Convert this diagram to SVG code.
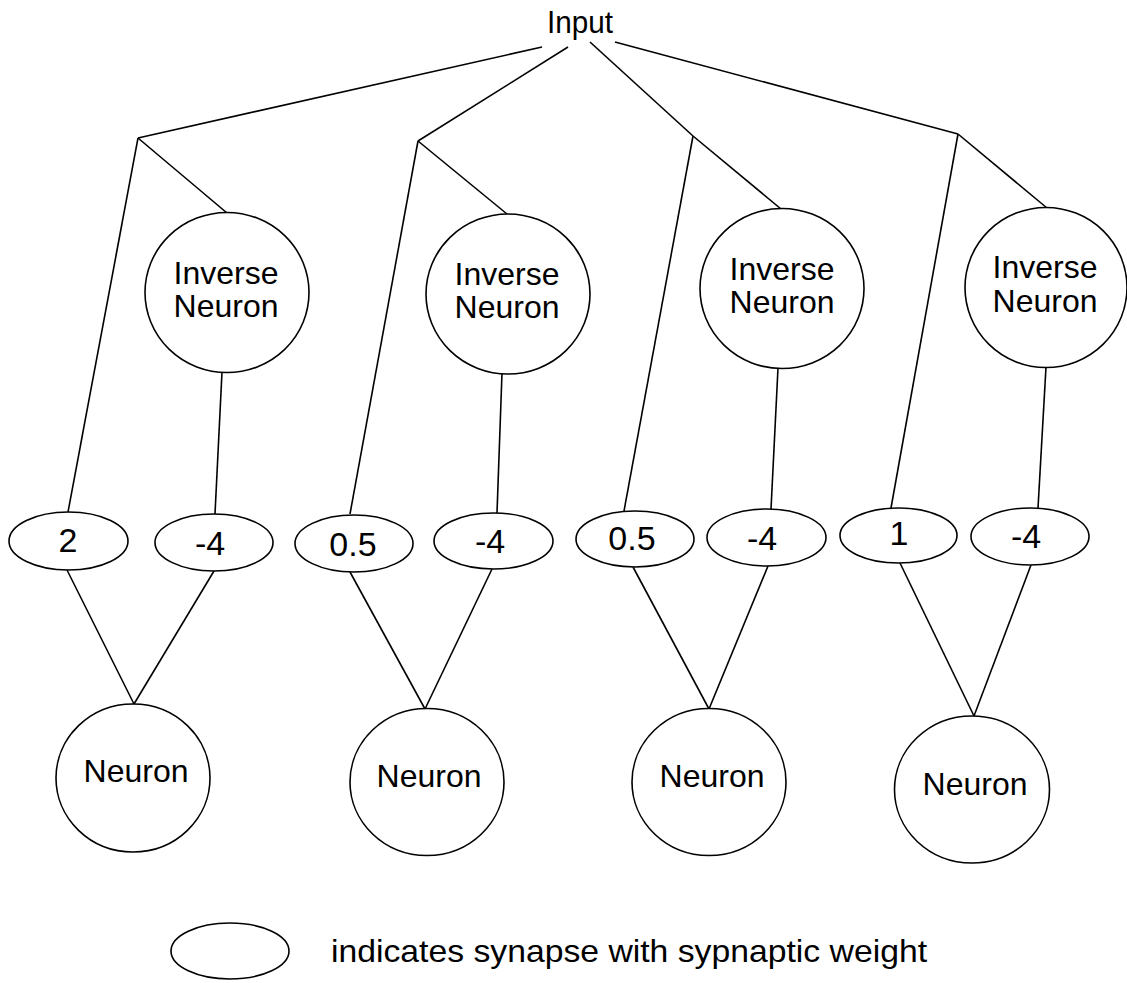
<svg xmlns="http://www.w3.org/2000/svg" width="1127" height="983" viewBox="0 0 1127 983">
<style>
.ln{stroke:#000;stroke-width:1.6;fill:none}
.sh{stroke:#000;stroke-width:1.6;fill:#fff}
.t{font-family:"Liberation Sans",Arial,sans-serif;font-size:32px;fill:#000;text-anchor:middle}
.w{font-family:"Liberation Sans",Arial,sans-serif;font-size:34px;fill:#000;text-anchor:middle}
</style>
<rect width="1127" height="983" fill="#fff"/>
<g id="connectors" class="ln">
<line x1="542" y1="47" x2="138" y2="138"/>
<line x1="568" y1="47" x2="418" y2="141"/>
<line x1="590" y1="42" x2="693" y2="136"/>
<line x1="615" y1="42" x2="958" y2="134"/>
<line x1="138" y1="138" x2="68" y2="512"/>
<line x1="418" y1="141" x2="350" y2="514"/>
<line x1="693" y1="136" x2="624" y2="511"/>
<line x1="958" y1="134" x2="891" y2="508"/>
<line x1="138" y1="138" x2="227" y2="213"/>
<line x1="418" y1="141" x2="507" y2="214"/>
<line x1="693" y1="136" x2="781" y2="209"/>
<line x1="958" y1="134" x2="1047" y2="208"/>
<line x1="222" y1="372" x2="215" y2="514"/>
<line x1="502" y1="373" x2="497" y2="513"/>
<line x1="778" y1="368" x2="771" y2="509"/>
<line x1="1046" y1="367" x2="1038" y2="508"/>
<line x1="67" y1="570" x2="134" y2="704"/>
<line x1="214" y1="571" x2="134" y2="704"/>
<line x1="350" y1="572" x2="425" y2="709"/>
<line x1="492" y1="569" x2="425" y2="709"/>
<line x1="633" y1="567" x2="709" y2="709"/>
<line x1="768" y1="566" x2="709" y2="709"/>
<line x1="900" y1="563" x2="974" y2="716"/>
<line x1="1031" y1="565" x2="974" y2="716"/>
</g>
<g id="input"><text class="t" x="580" y="33" font-size="34" textLength="66" lengthAdjust="spacingAndGlyphs">Input</text></g>
<g id="inv1"><ellipse class="sh" cx="227" cy="292.5" rx="82" ry="80"/><text class="t" x="226" y="284">Inverse</text><text class="t" x="226" y="317">Neuron</text></g>
<g id="inv2"><ellipse class="sh" cx="508" cy="294" rx="82" ry="80"/><text class="t" x="507" y="285">Inverse</text><text class="t" x="507" y="318">Neuron</text></g>
<g id="inv3"><ellipse class="sh" cx="782" cy="288.5" rx="82" ry="80"/><text class="t" x="782" y="280">Inverse</text><text class="t" x="782" y="313">Neuron</text></g>
<g id="inv4"><ellipse class="sh" cx="1046" cy="287.5" rx="81" ry="80"/><text class="t" x="1045" y="278">Inverse</text><text class="t" x="1045" y="312">Neuron</text></g>
<g id="w1a"><ellipse class="sh" cx="68.5" cy="541" rx="59.5" ry="29"/><text class="w" x="68" y="552">2</text></g>
<g id="w1b"><ellipse class="sh" cx="214" cy="542.5" rx="59" ry="28.5"/><text class="w" x="210" y="555">-4</text></g>
<g id="w2a"><ellipse class="sh" cx="354" cy="543.5" rx="59" ry="28.5"/><text class="w" x="353" y="556">0.5</text></g>
<g id="w2b"><ellipse class="sh" cx="493.5" cy="541" rx="59.5" ry="28"/><text class="w" x="490" y="553">-4</text></g>
<g id="w3a"><ellipse class="sh" cx="635" cy="539" rx="59" ry="28"/><text class="w" x="632" y="550">0.5</text></g>
<g id="w3b"><ellipse class="sh" cx="766.5" cy="537.5" rx="59.5" ry="28.5"/><text class="w" x="762" y="550">-4</text></g>
<g id="w4a"><ellipse class="sh" cx="898.5" cy="535.5" rx="58.5" ry="27.5"/><text class="w" x="899" y="545">1</text></g>
<g id="w4b"><ellipse class="sh" cx="1030" cy="536.5" rx="59" ry="28.5"/><text class="w" x="1026" y="548">-4</text></g>
<g id="n1"><ellipse class="sh" cx="133" cy="778" rx="77" ry="74"/><text class="t" x="136" y="782">Neuron</text></g>
<g id="n2"><ellipse class="sh" cx="427" cy="782" rx="77" ry="73.5"/><text class="t" x="429" y="787">Neuron</text></g>
<g id="n3"><ellipse class="sh" cx="709" cy="782" rx="77" ry="73.5"/><text class="t" x="712" y="787">Neuron</text></g>
<g id="n4"><ellipse class="sh" cx="972" cy="789.5" rx="77.5" ry="73.5"/><text class="t" x="975" y="795">Neuron</text></g>
<g id="legend"><ellipse class="sh" cx="230" cy="951" rx="59" ry="28"/><text class="t" x="629" y="962" textLength="596" lengthAdjust="spacingAndGlyphs">indicates synapse with sypnaptic weight</text></g>
</svg>
